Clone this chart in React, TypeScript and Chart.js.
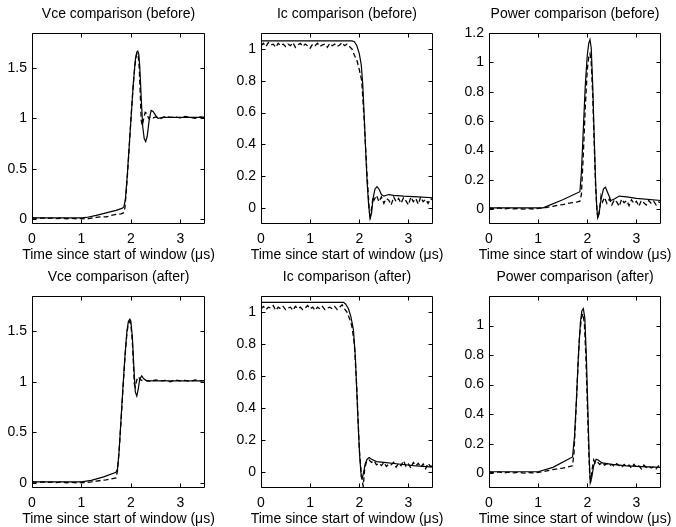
import React, { useEffect, useRef } from 'react';
import { Chart, registerables } from 'chart.js';

Chart.register(...registerables);

const FONT = '"Liberation Sans", Arial, Helvetica, sans-serif';

// ---------- shared axis ticks ----------
const X_TICKS = [0, 1, 2, 3];
const X_TICK_LABELS = ['0', '1', '2', '3'];
const X_LABEL = 'Time since start of window (\u03bcs)';
const VCE_TICKS = [0, 0.5, 1, 1.5];
const VCE_TICK_LABELS = ['0', '0.5', '1', '1.5'];
const IC_TICKS = [0, 0.2, 0.4, 0.6, 0.8, 1];
const IC_TICK_LABELS = ['0', '0.2', '0.4', '0.6', '0.8', '1'];
const PB_TICKS = [0, 0.2, 0.4, 0.6, 0.8, 1, 1.2];
const PB_TICK_LABELS = ['0', '0.2', '0.4', '0.6', '0.8', '1', '1.2'];
const PA_TICKS = [0, 0.2, 0.4, 0.6, 0.8, 1];
const PA_TICK_LABELS = ['0', '0.2', '0.4', '0.6', '0.8', '1'];

// ---------- Vce (before) ----------
const VCE_B_SIM_T = [0, 0.5, 1.0, 1.1, 1.3, 1.5, 1.7, 1.82, 1.86, 1.89, 1.93, 1.97, 2.01, 2.05, 2.09, 2.12, 2.14, 2.16, 2.18, 2.21, 2.24, 2.27, 2.3, 2.33, 2.37, 2.41, 2.45, 2.5, 2.55, 2.65, 3.0, 3.5];
const VCE_B_SIM_V = [0.01, 0.01, 0.01, 0.015, 0.035, 0.06, 0.085, 0.105, 0.12, 0.2, 0.45, 0.75, 1.05, 1.35, 1.58, 1.66, 1.67, 1.64, 1.52, 1.2, 0.92, 0.8, 0.77, 0.82, 0.98, 1.08, 1.07, 1.03, 1.0, 1.01, 1.01, 1.01];
const VCE_B_MEAS_T = [0, 0.1, 0.2, 0.3, 0.4, 0.5, 0.6, 0.7, 0.8, 0.9, 1.0, 1.1, 1.2, 1.3, 1.4, 1.5, 1.6, 1.7, 1.8, 1.85, 1.88, 1.92, 1.96, 2.0, 2.04, 2.08, 2.11, 2.13, 2.15, 2.17, 2.19, 2.21, 2.23, 2.26, 2.29, 2.32, 2.36, 2.4, 2.45, 2.5, 2.6, 2.7, 2.8, 2.9, 3.0, 3.1, 3.2, 3.3, 3.4, 3.5];
const VCE_B_MEAS_V = [0.012, 0.006, 0.011, 0.004, 0.009, 0.003, 0.008, 0.002, 0.006, 0.001, 0.004, 0.0, 0.008, 0.015, 0.022, 0.02, 0.035, 0.045, 0.05, 0.06, 0.11, 0.36, 0.66, 0.98, 1.28, 1.52, 1.63, 1.65, 1.62, 1.5, 1.25, 0.98, 0.93, 1.0, 1.06, 1.05, 1.0, 1.02, 1.005, 1.015, 1.0, 1.02, 1.01, 1.015, 1.005, 1.02, 1.01, 1.0, 1.015, 1.01];

// ---------- Ic (before) ----------
const IC_B_SIM_T = [0, 1.0, 1.85, 1.9, 1.95, 2.0, 2.04, 2.07, 2.1, 2.13, 2.16, 2.19, 2.22, 2.25, 2.28, 2.32, 2.36, 2.4, 2.45, 2.5, 2.6, 2.7, 2.9, 3.2, 3.5];
const IC_B_SIM_V = [1.05, 1.05, 1.05, 1.045, 1.02, 0.97, 0.9, 0.78, 0.58, 0.36, 0.16, 0.02, -0.065, -0.03, 0.06, 0.12, 0.135, 0.12, 0.085, 0.075, 0.085, 0.08, 0.075, 0.07, 0.065];
const IC_B_MEAS_T = [0, 0.05, 0.1, 0.15, 0.2, 0.25, 0.3, 0.35, 0.4, 0.45, 0.5, 0.55, 0.6, 0.65, 0.7, 0.75, 0.8, 0.85, 0.9, 0.95, 1.0, 1.05, 1.1, 1.15, 1.2, 1.25, 1.3, 1.35, 1.4, 1.45, 1.5, 1.55, 1.6, 1.65, 1.7, 1.75, 1.8, 1.85, 1.9, 1.95, 2.0, 2.05, 2.1, 2.15, 2.2, 2.22, 2.25, 2.28, 2.3, 2.35, 2.4, 2.45, 2.5, 2.55, 2.6, 2.65, 2.7, 2.75, 2.8, 2.85, 2.9, 2.95, 3.0, 3.05, 3.1, 3.15, 3.2, 3.25, 3.3, 3.35, 3.4, 3.45, 3.5];
const IC_B_MEAS_V = [1.02, 1.035, 1.015, 1.04, 1.025, 1.03, 1.01, 1.035, 1.02, 1.03, 1.015, 1.03, 1.02, 1.04, 1.01, 1.025, 1.035, 1.015, 1.03, 1.02, 1.005, 1.03, 1.02, 1.035, 1.015, 1.025, 1.03, 1.01, 1.035, 1.02, 1.03, 1.015, 1.025, 1.04, 1.02, 1.03, 1.015, 1.0, 0.96, 0.93, 0.87, 0.8, 0.55, 0.25, 0.0, -0.07, 0.0, 0.07, 0.05, 0.08, 0.04, 0.07, 0.03, 0.06, 0.05, 0.02, 0.07, 0.04, 0.06, 0.03, 0.065, 0.045, 0.02, 0.07, 0.04, 0.06, 0.025, 0.07, 0.04, 0.055, 0.03, 0.06, 0.05];

// ---------- Power (before) ----------
const PW_B_SIM_T = [0, 1.1, 1.5, 1.85, 1.88, 1.92, 1.96, 2.0, 2.03, 2.055, 2.08, 2.11, 2.14, 2.17, 2.19, 2.21, 2.24, 2.28, 2.33, 2.37, 2.42, 2.48, 2.55, 2.65, 2.8, 3.0, 3.5];
const PW_B_SIM_V = [0.01, 0.01, 0.065, 0.12, 0.25, 0.55, 0.85, 1.05, 1.13, 1.155, 1.1, 0.85, 0.5, 0.18, 0.03, -0.057, -0.03, 0.07, 0.14, 0.15, 0.11, 0.06, 0.07, 0.09, 0.085, 0.075, 0.06];
const PW_B_MEAS_T = [0, 0.1, 0.2, 0.3, 0.4, 0.5, 0.6, 0.7, 0.8, 0.9, 1.0, 1.1, 1.2, 1.3, 1.4, 1.5, 1.6, 1.7, 1.8, 1.85, 1.88, 1.92, 1.96, 2.0, 2.03, 2.055, 2.08, 2.11, 2.14, 2.17, 2.2, 2.22, 2.25, 2.28, 2.31, 2.35, 2.4, 2.45, 2.5, 2.55, 2.6, 2.65, 2.7, 2.75, 2.8, 2.85, 2.9, 2.95, 3.0, 3.05, 3.1, 3.15, 3.2, 3.25, 3.3, 3.35, 3.4, 3.45, 3.5];
const PW_B_MEAS_V = [0.008, 0.004, 0.009, 0.002, 0.007, 0.003, 0.006, 0.001, 0.005, 0.002, 0.006, 0.008, 0.015, 0.02, 0.028, 0.032, 0.04, 0.045, 0.05, 0.055, 0.1, 0.38, 0.7, 0.95, 1.04, 1.06, 1.0, 0.78, 0.45, 0.15, -0.02, -0.06, 0.0, 0.09, 0.05, 0.08, 0.04, 0.07, 0.03, 0.065, 0.05, 0.02, 0.07, 0.045, 0.06, 0.025, 0.065, 0.04, 0.055, 0.02, 0.06, 0.045, 0.03, 0.06, 0.04, 0.055, 0.03, 0.05, 0.045];

// ---------- Vce (after) ----------
const VCE_A_SIM_T = [0, 1.0, 1.2, 1.45, 1.7, 1.73, 1.76, 1.8, 1.84, 1.88, 1.92, 1.95, 1.98, 2.0, 2.03, 2.06, 2.09, 2.12, 2.15, 2.18, 2.22, 2.26, 2.32, 2.45, 3.5];
const VCE_A_SIM_V = [0.01, 0.01, 0.025, 0.06, 0.105, 0.14, 0.3, 0.62, 0.95, 1.25, 1.5, 1.6, 1.62, 1.6, 1.45, 1.15, 0.9, 0.86, 0.93, 1.03, 1.06, 1.03, 1.01, 1.01, 1.01];
const VCE_A_MEAS_T = [0, 0.1, 0.2, 0.3, 0.4, 0.5, 0.6, 0.7, 0.8, 0.9, 1.0, 1.1, 1.2, 1.3, 1.4, 1.5, 1.6, 1.7, 1.73, 1.76, 1.8, 1.84, 1.88, 1.92, 1.95, 1.98, 2.0, 2.03, 2.05, 2.07, 2.09, 2.11, 2.14, 2.17, 2.2, 2.25, 2.3, 2.4, 2.5, 2.6, 2.7, 2.8, 2.9, 3.0, 3.1, 3.2, 3.3, 3.4, 3.5];
const VCE_A_MEAS_V = [0.012, 0.006, 0.011, 0.004, 0.009, 0.003, 0.008, 0.002, 0.006, 0.001, 0.005, 0.004, 0.01, 0.018, 0.025, 0.03, 0.04, 0.05, 0.12, 0.3, 0.6, 0.93, 1.24, 1.48, 1.58, 1.6, 1.57, 1.4, 1.2, 0.98, 0.95, 1.0, 1.05, 1.04, 1.02, 1.01, 1.015, 1.005, 1.02, 1.01, 1.015, 1.0, 1.02, 1.01, 1.015, 1.005, 1.02, 1.01, 1.012];

// ---------- Ic (after) ----------
const IC_A_SIM_T = [0, 1.0, 1.68, 1.72, 1.78, 1.83, 1.88, 1.92, 1.95, 1.98, 2.01, 2.04, 2.06, 2.09, 2.12, 2.16, 2.2, 2.25, 2.35, 2.5, 2.8, 3.1, 3.5];
const IC_A_SIM_V = [1.06, 1.06, 1.06, 1.05, 1.02, 0.97, 0.89, 0.72, 0.5, 0.28, 0.09, -0.03, -0.04, 0.0, 0.05, 0.08, 0.09, 0.08, 0.065, 0.06, 0.05, 0.04, 0.03];
const IC_A_MEAS_T = [0, 0.05, 0.1, 0.15, 0.2, 0.25, 0.3, 0.35, 0.4, 0.45, 0.5, 0.55, 0.6, 0.65, 0.7, 0.75, 0.8, 0.85, 0.9, 0.95, 1.0, 1.05, 1.1, 1.15, 1.2, 1.25, 1.3, 1.35, 1.4, 1.45, 1.5, 1.55, 1.6, 1.65, 1.7, 1.75, 1.8, 1.85, 1.9, 1.95, 2.0, 2.05, 2.08, 2.11, 2.15, 2.2, 2.25, 2.3, 2.35, 2.4, 2.45, 2.5, 2.55, 2.6, 2.65, 2.7, 2.75, 2.8, 2.85, 2.9, 2.95, 3.0, 3.05, 3.1, 3.15, 3.2, 3.25, 3.3, 3.35, 3.4, 3.45, 3.5];
const IC_A_MEAS_V = [1.02, 1.035, 1.015, 1.03, 1.025, 1.04, 1.01, 1.03, 1.02, 1.035, 1.015, 1.025, 1.03, 1.01, 1.035, 1.02, 1.03, 1.015, 1.025, 1.04, 1.02, 1.03, 1.01, 1.03, 1.02, 1.035, 1.015, 1.025, 1.03, 1.02, 1.035, 1.015, 1.03, 1.045, 1.02, 1.0, 0.96, 0.91, 0.8, 0.52, 0.14, -0.04, -0.09, 0.02, 0.07, 0.075, 0.06, 0.07, 0.045, 0.055, 0.04, 0.06, 0.035, 0.05, 0.045, 0.06, 0.03, 0.055, 0.04, 0.07, 0.035, 0.05, 0.025, 0.06, 0.04, 0.055, 0.03, 0.05, 0.02, 0.055, 0.035, 0.04];

// ---------- Power (after) ----------
const PW_A_SIM_T = [0, 1.0, 1.3, 1.7, 1.74, 1.78, 1.82, 1.86, 1.89, 1.92, 1.95, 1.98, 2.01, 2.04, 2.06, 2.09, 2.13, 2.18, 2.22, 2.3, 2.5, 2.8, 3.1, 3.5];
const PW_A_SIM_V = [0.01, 0.01, 0.04, 0.11, 0.25, 0.5, 0.8, 1.02, 1.1, 1.115, 1.05, 0.8, 0.45, 0.1, -0.065, -0.03, 0.05, 0.095, 0.09, 0.07, 0.06, 0.05, 0.045, 0.04];
const PW_A_MEAS_T = [0, 0.1, 0.2, 0.3, 0.4, 0.5, 0.6, 0.7, 0.8, 0.9, 1.0, 1.1, 1.2, 1.3, 1.4, 1.5, 1.6, 1.7, 1.73, 1.76, 1.8, 1.84, 1.88, 1.91, 1.94, 1.97, 2.0, 2.03, 2.05, 2.07, 2.1, 2.13, 2.16, 2.2, 2.25, 2.3, 2.35, 2.4, 2.45, 2.5, 2.55, 2.6, 2.65, 2.7, 2.75, 2.8, 2.85, 2.9, 2.95, 3.0, 3.05, 3.1, 3.15, 3.2, 3.25, 3.3, 3.35, 3.4, 3.45, 3.5];
const PW_A_MEAS_V = [0.008, 0.004, 0.009, 0.002, 0.007, 0.003, 0.006, 0.001, 0.005, 0.002, 0.006, 0.01, 0.018, 0.025, 0.03, 0.035, 0.042, 0.05, 0.14, 0.35, 0.65, 0.92, 1.05, 1.08, 1.02, 0.8, 0.48, 0.15, -0.02, -0.05, 0.03, 0.09, 0.07, 0.08, 0.06, 0.07, 0.055, 0.065, 0.05, 0.06, 0.045, 0.065, 0.05, 0.04, 0.06, 0.045, 0.055, 0.035, 0.06, 0.04, 0.05, 0.03, 0.055, 0.04, 0.05, 0.035, 0.045, 0.03, 0.05, 0.04];

type PanelSpec = {
  title: string;
  cx: number; cy: number; cw: number; ch: number;
  L: number; T: number; R: number; B: number;
  yMin: number; yMax: number;
  yTicks: number[]; yTickLabels: string[];
  simT: number[]; simV: number[];
  measT: number[]; measV: number[];
};

const TOP = { cy: 0, ch: 263, T: 33, B: 224 };
const BOT = { cy: 263, ch: 264, T: 296, B: 488 };
const COL = [
  { cx: 0, cw: 226, L: 32, R: 205 },
  { cx: 226, cw: 226, L: 261, R: 433 },
  { cx: 452, cw: 224, L: 489, R: 661 },
];

const PANELS: PanelSpec[] = [
  { title: 'Vce comparison (before)', ...TOP, ...COL[0], yMin: -0.05, yMax: 1.85, yTicks: VCE_TICKS, yTickLabels: VCE_TICK_LABELS, simT: VCE_B_SIM_T, simV: VCE_B_SIM_V, measT: VCE_B_MEAS_T, measV: VCE_B_MEAS_V },
  { title: 'Ic comparison (before)', ...TOP, ...COL[1], yMin: -0.1, yMax: 1.1, yTicks: IC_TICKS, yTickLabels: IC_TICK_LABELS, simT: IC_B_SIM_T, simV: IC_B_SIM_V, measT: IC_B_MEAS_T, measV: IC_B_MEAS_V },
  { title: 'Power comparison (before)', ...TOP, ...COL[2], yMin: -0.1, yMax: 1.2, yTicks: PB_TICKS, yTickLabels: PB_TICK_LABELS, simT: PW_B_SIM_T, simV: PW_B_SIM_V, measT: PW_B_MEAS_T, measV: PW_B_MEAS_V },
  { title: 'Vce comparison (after)', ...BOT, ...COL[0], yMin: -0.05, yMax: 1.85, yTicks: VCE_TICKS, yTickLabels: VCE_TICK_LABELS, simT: VCE_A_SIM_T, simV: VCE_A_SIM_V, measT: VCE_A_MEAS_T, measV: VCE_A_MEAS_V },
  { title: 'Ic comparison (after)', ...BOT, ...COL[1], yMin: -0.1, yMax: 1.1, yTicks: IC_TICKS, yTickLabels: IC_TICK_LABELS, simT: IC_A_SIM_T, simV: IC_A_SIM_V, measT: IC_A_MEAS_T, measV: IC_A_MEAS_V },
  { title: 'Power comparison (after)', ...BOT, ...COL[2], yMin: -0.1, yMax: 1.2, yTicks: PA_TICKS, yTickLabels: PA_TICK_LABELS, simT: PW_A_SIM_T, simV: PW_A_SIM_V, measT: PW_A_MEAS_T, measV: PW_A_MEAS_V },
];

const zip = (t: number[], v: number[]) => t.map((x, i) => ({ x, y: v[i] }));

const X_LABEL_OFFSET = 31; // centre of x label below the axes box

const framePlugin = {
  id: 'matlabFrame',
  afterDatasetsDraw(chart: any) {
    const { ctx, chartArea } = chart;
    const { left, top, right, bottom } = chartArea;
    const xs = chart.scales.x;
    const ys = chart.scales.y;
    const TL = 4;
    ctx.save();
    ctx.strokeStyle = '#000';
    ctx.lineWidth = 1;
    ctx.beginPath();
    const l = Math.round(left) + 0.5, r = Math.round(right) - 0.5;
    const t = Math.round(top) + 0.5, b = Math.round(bottom) - 0.5;
    ctx.rect(l, t, r - l, b - t);
    xs.ticks.forEach((tk: any) => {
      const px = Math.round(xs.getPixelForValue(tk.value)) + 0.5;
      ctx.moveTo(px, b); ctx.lineTo(px, b - TL);
      ctx.moveTo(px, t); ctx.lineTo(px, t + TL);
    });
    ys.ticks.forEach((tk: any) => {
      const py = Math.round(ys.getPixelForValue(tk.value)) + 0.5;
      ctx.moveTo(l, py); ctx.lineTo(l + TL, py);
      ctx.moveTo(r, py); ctx.lineTo(r - TL, py);
    });
    ctx.stroke();
    // x axis label, unconstrained width, centred on the axes box
    ctx.fillStyle = '#000';
    ctx.font = `14px ${FONT}`;
    ctx.textAlign = 'center';
    ctx.textBaseline = 'middle';
    ctx.fillText(X_LABEL, (left + right) / 2, bottom + X_LABEL_OFFSET);
    ctx.restore();
  },
};

function Panel({ p }: { p: PanelSpec }) {
  const ref = useRef<HTMLCanvasElement | null>(null);
  useEffect(() => {
    const canvas = ref.current;
    if (!canvas) return;
    const font = { family: FONT, size: 14, weight: 'normal' as const, lineHeight: 1.2 };
    const titleH = p.T - p.cy;
    const xH = p.cy + p.ch - p.B;
    const yW = p.L - p.cx;
    const padRight = p.cx + p.cw - p.R;
    const chart = new Chart(canvas, {
      type: 'line',
      data: {
        datasets: [
          { data: zip(p.measT, p.measV), borderColor: '#000', borderWidth: 1.3, borderDash: [5, 3], pointRadius: 0, fill: false, tension: 0 },
          { data: zip(p.simT, p.simV), borderColor: '#000', borderWidth: 1.2, pointRadius: 0, fill: false, tension: 0 },
        ],
      },
      options: {
        animation: false,
        responsive: false,
        maintainAspectRatio: false,
        devicePixelRatio: 1,
        events: [],
        layout: { padding: { left: 0, top: 0, right: padRight, bottom: 0 } },
        plugins: {
          legend: { display: false },
          tooltip: { enabled: false },
          title: {
            display: true,
            text: p.title,
            color: '#000',
            fullSize: false,
            font,
            padding: { top: 6, bottom: titleH - 16.8 - 6 },
          },
        },
        scales: {
          x: {
            type: 'linear',
            min: 0,
            max: 3.5,
            afterBuildTicks: (s: any) => { s.ticks = X_TICKS.map((v) => ({ value: v })); },
            afterFit: (s: any) => { s.height = xH; },
            grid: { display: false, drawTicks: false },
            border: { display: false },
            ticks: {
              padding: 7,
              color: '#000',
              font,
              autoSkip: false,
              maxRotation: 0,
              minRotation: 0,
              callback: (_v: any, i: number) => X_TICK_LABELS[i],
            },
            title: { display: false },
          },
          y: {
            type: 'linear',
            min: p.yMin,
            max: p.yMax,
            afterBuildTicks: (s: any) => { s.ticks = p.yTicks.map((v) => ({ value: v })); },
            afterFit: (s: any) => { s.width = yW; },
            grid: { display: false, drawTicks: false },
            border: { display: false },
            ticks: {
              padding: 5,
              color: '#000',
              font,
              autoSkip: false,
              callback: (_v: any, i: number) => p.yTickLabels[i],
            },
          },
        },
      } as any,
      plugins: [framePlugin],
    });
    return () => chart.destroy();
  }, [p]);
  return (
    <canvas
      ref={ref}
      width={p.cw}
      height={p.ch}
      style={{ position: 'absolute', left: p.cx, top: p.cy, width: p.cw, height: p.ch }}
    />
  );
}

export default function App() {
  return (
    <div style={{ position: 'absolute', left: 0, top: 0, width: 676, height: 527, background: '#fff', overflow: 'hidden' }}>
      {PANELS.map((p, i) => (
        <Panel key={i} p={p} />
      ))}
    </div>
  );
}
